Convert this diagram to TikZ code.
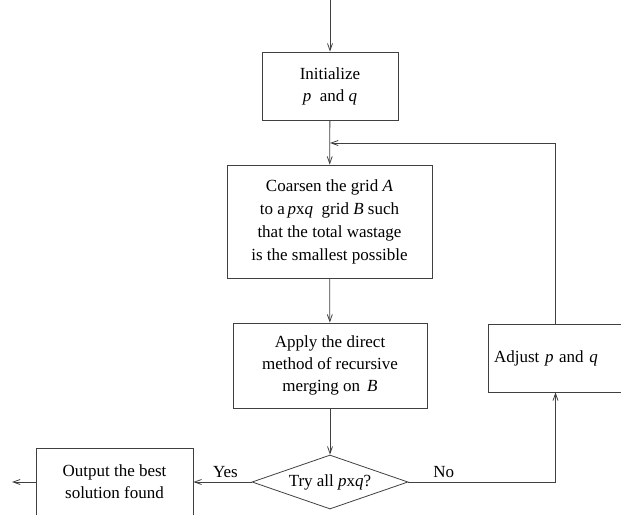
\documentclass[tikz,border=0pt]{standalone}
\usepackage{fontspec}
\setmainfont{Liberation Serif}
\usetikzlibrary{shapes.geometric, arrows.meta}
\tikzset{>={Straight Barb[length=7pt,width=5pt]},
every node/.style={font=\fontsize{17}{22}\selectfont},
box/.style={draw=black!75, line width=0.8pt, inner sep=0pt, align=center},
line/.style={->, draw=black!75, line width=0.8pt},
every edge/.style={line}
}

\begin{document}
\begin{tikzpicture}[x=1pt,y=-1pt]
\useasboundingbox (0,0) rectangle (621,514);
\node[box,minimum width=136,minimum height=68] (init) at (330,86) {Initialize\\\textit{p}\ \ and \textit{q}};
\node[box,minimum width=205,minimum height=113,font=\fontsize{17}{23}\selectfont] (coarse) at (329.5,221.5)
  {Coarsen the grid \textit{A}\\to a\,\textit{p}x\textit{q}\ \ grid \textit{B} such\\that the total wastage\\is the smallest possible};
\node[box,minimum width=194,minimum height=85] (merge) at (330,365.5)
  {Apply the direct\\method of recursive\\merging on \,\textit{B}};
\node[box,shape=diamond,minimum width=156,minimum height=54,aspect=2.9] (try) at (330,482) {Try all \textit{p}x\textit{q}?};
\node[box,minimum width=157,minimum height=68] (out) at (114.5,482) {Output the best\\solution found};
\node[box,minimum width=135,minimum height=68,text width=123,align=left] (adj) at (555.5,358) {Adjust \textit{p} and \textit{q}};
\coordinate (start) at (330,0);
\coordinate (join) at (330,143);
\coordinate (end) at (12,482);
\path
(start) edge (init)
(init) edge (coarse)
(coarse) edge (merge)
(merge) edge (try)
(try) edge node[above=1pt,pos=0.45]{Yes} (out)
(out) edge (end)
;
\draw[line] (try.east) -| node[pos=0.12,above=1pt]{No} (adj.south);
\draw[line] (adj.north) |- (join);
\end{tikzpicture}
\end{document}
